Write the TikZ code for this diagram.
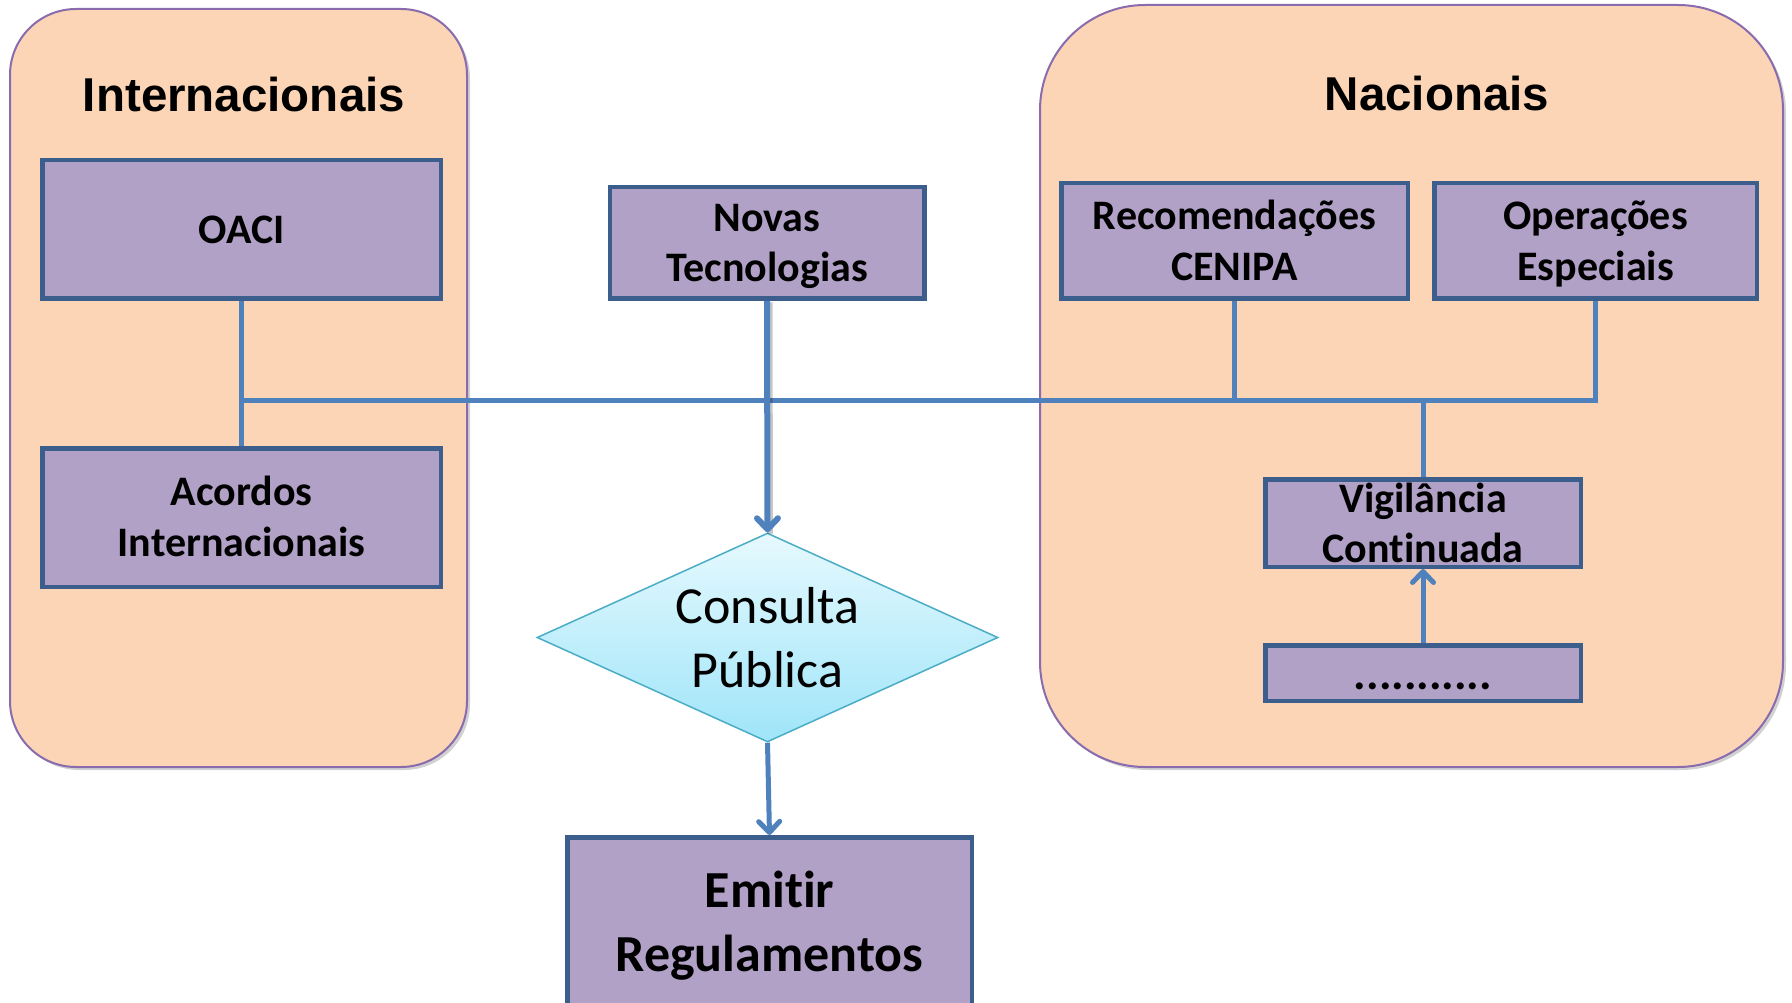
\documentclass[tikz,border=0pt]{standalone}
\usepackage{fontspec}
\setmainfont{Carlito}[RawFeature=-liga]
\newfontfamily\titlefont{Liberation Sans}
\usetikzlibrary{arrows.meta,shapes.geometric,shadows}
\definecolor{panelfill}{HTML}{FBD5B5}
\definecolor{panelline}{HTML}{8A6BAE}
\definecolor{boxfill}{HTML}{B2A1C7}
\definecolor{boxline}{HTML}{3B5E8C}
\definecolor{connblue}{HTML}{4F81BD}
\definecolor{diatop}{HTML}{E6F9FE}
\definecolor{diabot}{HTML}{9FE5F9}
\definecolor{dialine}{HTML}{4BACC6}
\begin{document}
\begin{tikzpicture}[x=1pt,y=-1pt,
  panel/.style={fill=panelfill,draw=panelline,line width=2pt,
    drop shadow={shadow xshift=3pt,shadow yshift=-3pt,opacity=0.18,fill=black}},
  ptitle/.style={font=\titlefont\bfseries\fontsize{47.5}{57}\selectfont,inner sep=0pt},
  box/.style={rectangle,fill=boxfill,draw=boxline,line width=4.5pt,inner sep=0pt,
    align=center,font=\bfseries\fontsize{42}{51}\selectfont},
  twoline/.style={text height=88pt,text depth=10pt},
  bigtext/.style={align=center,inner sep=0pt},
  conn/.style={draw=connblue,line width=5pt},
  arr/.style={conn,-{Straight Barb[length=11pt,width=21pt,round]}},
  shadowline/.style={draw=black,line width=6pt,opacity=0.22}
]
\useasboundingbox (0,0) rectangle (1792,1003);

% panels
\draw[panel,rounded corners=66pt] (10,9) rectangle (467,767);
\draw[panel,rounded corners=105pt] (1040,5) rectangle (1783,767);
\node[ptitle] (tint) at (244,95) {Internacionais};
\node[ptitle] (tnac) at (1437,94) {Nacionais};

% boxes
\node[box,minimum width=398.5pt,minimum height=138.5pt] (oaci) at (241.5,229.5) {OACI};
\node[box,twoline,minimum width=398.5pt,minimum height=138.5pt] (acordos) at (241.5,517.5) {Acordos\\Internacionais};
\node[box,twoline,minimum width=314.5pt,minimum height=111.5pt] (novas) at (767,243) {Novas\\Tecnologias};
\node[box,twoline,minimum width=346.5pt,minimum height=115.5pt] (cenipa) at (1234.5,241) {Recomendações\\CENIPA};
\node[box,twoline,minimum width=322.5pt,minimum height=115.5pt] (oper) at (1595.5,241) {Operações\\Especiais};
\node[box,minimum width=315.5pt,minimum height=87.5pt,font=\bfseries\fontsize{42}{50}\selectfont] (vig) at (1423,523) {Vigilância\\Continuada};
\node[box,minimum width=315.5pt,minimum height=55.5pt,text height=32pt,text depth=0pt,
  font=\bfseries\fontsize{47}{56}\selectfont] (dots) at (1423,673) {...........};

\node[diamond,minimum width=461pt,minimum height=209pt,inner sep=0pt,draw=dialine,
  line width=1.5pt,top color=diatop,bottom color=diabot] (consulta) at (767.5,637.5) {};
\node[bigtext,font=\fontsize{52}{64}\selectfont] (consultatxt) at (767.5,638) {Consulta\\Pública};

\node[box,minimum width=404.5pt,minimum height=260pt,anchor=north] (emitir) at (769.5,835) {};
\node[bigtext,font=\bfseries\fontsize{52}{64}\selectfont] (emitirtxt) at (769.5,926) {Emitir\\Regulamentos};

% connectors
\coordinate (jl) at (241.5,400);
\coordinate (jr) at (1595.5,400);
\draw[conn] (oaci.south) -- (acordos.north);
\draw[conn] (jl) -- (jr) -- (oper.south);
\draw[conn] (cenipa.south) -- (cenipa.south |- jl);
\draw[conn] (vig.north) -- (vig.north |- jl);
\draw[shadowline,transform canvas={xshift=2.5pt,yshift=-1.5pt}] (novas.south) -- (consulta.north);
\draw[arr,line width=6pt] (novas.south) -- (consulta.north);
\draw[arr] (consulta.south) -- (emitir.north);
\draw[arr] (dots.north) -- (vig.south);
\end{tikzpicture}
\end{document}
